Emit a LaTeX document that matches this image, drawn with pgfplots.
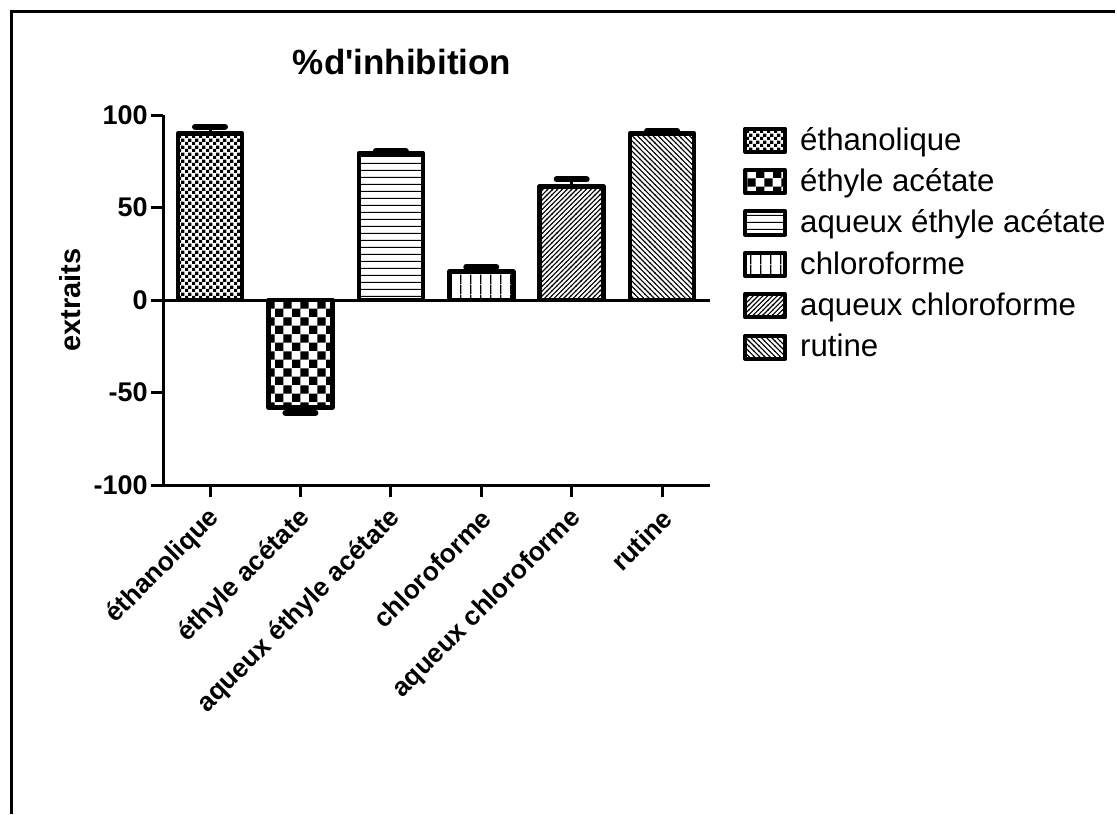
\documentclass[border=0pt]{standalone}
\usepackage{fontspec}
\setmainfont{Liberation Sans}
\usepackage{pgfplots}
\pgfplotsset{compat=1.18}
\usetikzlibrary{patterns}

\pgfdeclarepatternformonly{finecheck}{\pgfpointorigin}{\pgfqpoint{3.3pt}{3.3pt}}{\pgfqpoint{3.3pt}{3.3pt}}{%
  \pgfpathrectangle{\pgfpointorigin}{\pgfqpoint{1.65pt}{1.65pt}}%
  \pgfpathrectangle{\pgfqpoint{1.65pt}{1.65pt}}{\pgfqpoint{1.65pt}{1.65pt}}%
  \pgfusepath{fill}}
\pgfdeclarepatternformonly{bigcheck}{\pgfpointorigin}{\pgfqpoint{8.6pt}{8.6pt}}{\pgfqpoint{8.6pt}{8.6pt}}{%
  \pgfpathrectangle{\pgfpointorigin}{\pgfqpoint{4.3pt}{4.3pt}}%
  \pgfpathrectangle{\pgfqpoint{4.3pt}{4.3pt}}{\pgfqpoint{4.3pt}{4.3pt}}%
  \pgfusepath{fill}}
\pgfdeclarepatternformonly{hlin}{\pgfpointorigin}{\pgfqpoint{3.7pt}{3.7pt}}{\pgfqpoint{3.7pt}{3.7pt}}{%
  \pgfpathrectangle{\pgfpointorigin}{\pgfqpoint{3.7pt}{0.6pt}}%
  \pgfusepath{fill}}
\pgfdeclarepatternformonly{vlin}{\pgfpointorigin}{\pgfqpoint{5pt}{5pt}}{\pgfqpoint{5pt}{5pt}}{%
  \pgfpathrectangle{\pgfpointorigin}{\pgfqpoint{0.8pt}{5pt}}%
  \pgfusepath{fill}}
\pgfdeclarepatternformonly{nelin}{\pgfqpoint{-1pt}{-1pt}}{\pgfqpoint{3.4pt}{3.4pt}}{\pgfqpoint{2.4pt}{2.4pt}}{%
  \pgfsetlinewidth{0.55pt}%
  \pgfpathmoveto{\pgfqpoint{-0.2pt}{-0.2pt}}%
  \pgfpathlineto{\pgfqpoint{2.6pt}{2.6pt}}%
  \pgfusepath{stroke}}
\pgfdeclarepatternformonly{nwlin}{\pgfqpoint{-1pt}{-1pt}}{\pgfqpoint{3.6pt}{3.6pt}}{\pgfqpoint{2.6pt}{2.6pt}}{%
  \pgfsetlinewidth{0.55pt}%
  \pgfpathmoveto{\pgfqpoint{-0.2pt}{2.8pt}}%
  \pgfpathlineto{\pgfqpoint{2.8pt}{-0.2pt}}%
  \pgfusepath{stroke}}

\begin{document}
\begin{tikzpicture}
\path[use as bounding box] (0,0) rectangle (558.5pt,407pt);
\draw[line width=1.5pt] (5.5pt,0) -- (5.5pt,401pt) -- (557.5pt,401pt);
\begin{axis}[
  at={(81.5pt,164.5pt)}, anchor=south west,
  scale only axis, width=273.5pt, height=185pt,
  xmin=-0.52, xmax=5.53, ymin=-100, ymax=100,
  axis x line*=bottom, axis y line*=left,
  axis line style={line width=1.5pt, black},
  ytick={-100,-50,0,50,100},
  xtick={0,1,2,3,4,5},
  xticklabels={éthanolique, éthyle acétate, aqueux éthyle acétate, chloroforme, aqueux chloroforme, rutine},
  tick align=outside, major tick length=6pt,
  tick style={line width=1.5pt, black},
  x tick label style={rotate=45, anchor=east, font=\fontsize{13.2}{16}\selectfont\bfseries, inner sep=0pt, xshift=-4pt, yshift=-8pt},
  y tick label style={font=\fontsize{13.5}{16}\selectfont\bfseries, inner sep=1.5pt},
  /pgf/number format/assume math mode=true,
  title={\%d\textquotesingle inhibition},
  title style={at={(axis description cs:0.437,1.11)}, anchor=center, font=\fontsize{17.5}{20}\selectfont\bfseries},
  ylabel={extraits},
  ylabel style={at={(axis description cs:-0.17,0.5)}, anchor=center, font=\fontsize{14.5}{16}\selectfont\bfseries},
  legend cell align=left,
  legend style={draw=none, fill=none, inner sep=0pt, at={(axis description cs:1.060,0.970)}, anchor=north west,
    font=\fontsize{15.6}{18}\selectfont, row sep=7.1pt, column sep=6.5pt, nodes={inner sep=0pt}},
  legend image code/.code={\draw[#1, line width=2pt, line join=round] (0pt,-5.8pt) rectangle (20pt,5.8pt);},
  every axis plot/.append style={ybar, bar width=32pt, bar shift=0pt, draw=black, line width=2.3pt, line join=round},
]
\addplot[ybar, bar shift=0pt, pattern=finecheck, error bars/.cd, y dir=plus, y explicit,
  error bar style={line width=1.5pt, black},
  error mark options={rotate=90, line width=3pt, mark size=7.5pt, black, line cap=round}]
  coordinates {(0,90.1) +- (0,3.6)};
\addplot[ybar, bar shift=0pt, pattern=bigcheck, error bars/.cd, y dir=minus, y explicit,
  error bar style={line width=1.5pt, black},
  error mark options={rotate=90, line width=3pt, mark size=7.5pt, black, line cap=round}]
  coordinates {(1,-58.0) +- (0,3.0)};
\addplot[ybar, bar shift=0pt, pattern=hlin, error bars/.cd, y dir=plus, y explicit,
  error bar style={line width=1.5pt, black},
  error mark options={rotate=90, line width=3pt, mark size=7.5pt, black, line cap=round}]
  coordinates {(2,79.3) +- (0,1.2)};
\addplot[ybar, bar shift=0pt, pattern=vlin, error bars/.cd, y dir=plus, y explicit,
  error bar style={line width=1.5pt, black},
  error mark options={rotate=90, line width=3pt, mark size=7.5pt, black, line cap=round}]
  coordinates {(3,15.3) +- (0,2.7)};
\addplot[ybar, bar shift=0pt, pattern=nelin, error bars/.cd, y dir=plus, y explicit,
  error bar style={line width=1.5pt, black},
  error mark options={rotate=90, line width=3pt, mark size=7.5pt, black, line cap=round}]
  coordinates {(4,61.3) +- (0,3.9)};
\addplot[ybar, bar shift=0pt, pattern=nwlin, error bars/.cd, y dir=plus, y explicit,
  error bar style={line width=1.5pt, black},
  error mark options={rotate=90, line width=3pt, mark size=7.5pt, black, line cap=round}]
  coordinates {(5,90.1) +- (0,1.4)};
\addplot[sharp plot, line width=1.5pt, black, forget plot, mark=none] coordinates {(-0.52,0) (5.53,0)};
\legend{éthanolique, éthyle acétate, aqueux éthyle acétate, chloroforme, aqueux chloroforme, rutine}
\end{axis}
\end{tikzpicture}
\end{document}
